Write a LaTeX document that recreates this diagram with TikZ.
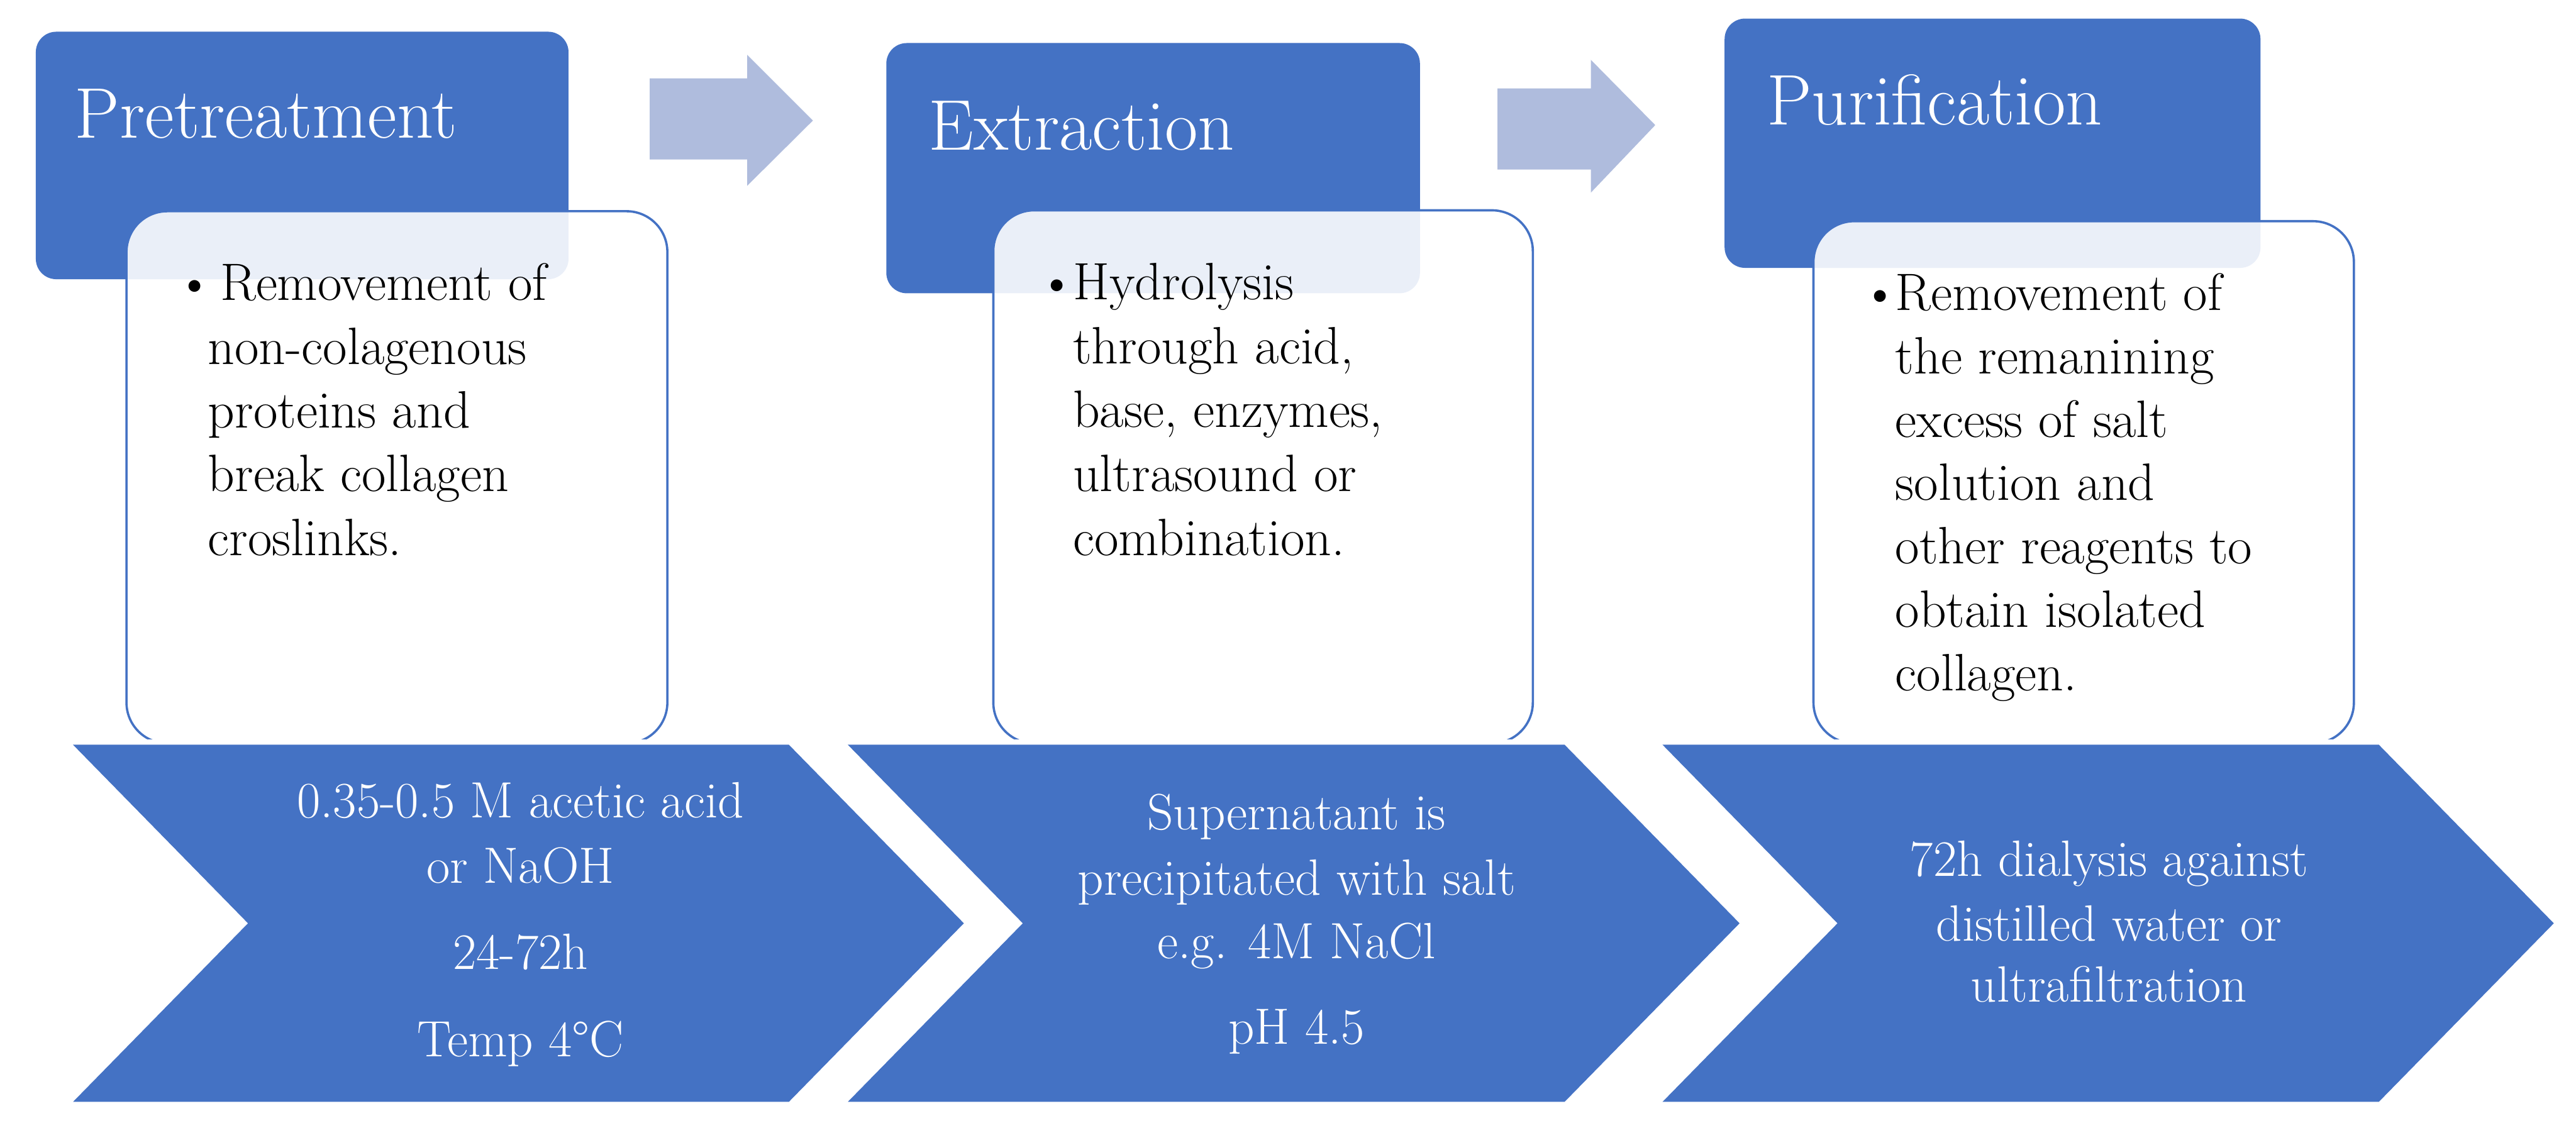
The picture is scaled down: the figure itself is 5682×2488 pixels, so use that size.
\documentclass[tikz,border=0pt]{standalone}
\definecolor{hblue}{RGB}{68,114,196}
\definecolor{arrowblue}{RGB}{175,188,221}
\tikzset{
  header/.style={fill=hblue, rounded corners=0.45cm},
  card/.style={draw=hblue, line width=0.05cm, fill=white, fill opacity=0.89, rounded corners=0.9cm},
  chev/.style={fill=hblue},
  bigarrow/.style={fill=arrowblue},
  title/.style={text=white, font=\fontsize{45}{54}\selectfont, anchor=base west, inner sep=0pt},
  btext/.style={text=black, font=\fontsize{33}{40}\selectfont, anchor=base west, inner sep=0pt},
  ctext/.style={text=white, font=\fontsize{32}{40}\selectfont, anchor=base, inner sep=0pt},
}
\begin{document}
\begin{tikzpicture}[x=0.01cm,y=-0.01cm]
\useasboundingbox (0,0) rectangle (5682,2488);
% headers
\fill[header] (79,70) rectangle (1254,616);
\fill[header] (1955,95) rectangle (3132,647);
\fill[header] (3804,41) rectangle (4986,591);
% white cards
\begin{scope}
\clip (0,0) rectangle (5682,1631);
\draw[card] (279,466) rectangle (1472,1640);
\draw[card] (2191,464) rectangle (3381,1640);
\draw[card] (4000,488) rectangle (5192,1640);
\end{scope}
% block arrows
\fill[bigarrow] (1433,173) -- (1648,173) -- (1648,121) -- (1793,266) -- (1648,410) -- (1648,352) -- (1433,352) -- cycle;
\fill[bigarrow] (3303,195) -- (3509,195) -- (3509,132) -- (3651,276) -- (3509,425) -- (3509,374) -- (3303,374) -- cycle;
% chevrons
\fill[chev] (161,1643) -- (1740,1643) -- (2126,2037) -- (1740,2431) -- (161,2431) -- (547,2037) -- cycle;
\fill[chev] (1870,1643) -- (3451,1643) -- (3837,2037) -- (3451,2431) -- (1870,2431) -- (2256,2037) -- cycle;
\fill[chev] (3667,1643) -- (5247,1643) -- (5633,2037) -- (5247,2431) -- (3667,2431) -- (4053,2037) -- cycle;
% titles
\node[title] (t1) at (164,304) {Pretreatment};
\node[title] (t2) at (2048,331) {Extraction};
\node[title] (t3) at (3896,276) {Purification};
% bullet texts
\node[btext] (pb) at (387,663) {\textbullet};
\node[btext] (p1) at (485,663) {Removement of};
\foreach \s [count=\i from 2] in {non-colagenous, proteins and, break collagen, croslinks.}
  \node[btext] (p\i) at (458,{663+140.5*(\i-1)}) {\s};
\node[btext] (eb) at (2289,661) {\textbullet};
\foreach \s [count=\i from 1] in {Hydrolysis, {through acid,}, {base, enzymes,}, ultrasound or, combination.}
  \node[btext] (e\i) at (2366,{661+141*(\i-1)}) {\s};
\node[btext] (ub) at (4105,685) {\textbullet};
\foreach \s [count=\i from 1] in {Removement of, the remanining, excess of salt, solution and, other reagents to, obtain isolated, collagen.}
  \node[btext] (u\i) at (4180,{685+139.7*(\i-1)}) {\s};
% chevron texts
\node[ctext] (c11) at (1148,1804) {0.35-0.5 M acetic acid};
\node[ctext] (c12) at (1148,1948) {or NaOH};
\node[ctext] (c13) at (1148,2139) {24-72h};
\node[ctext] (c14) at (1148,2331) {Temp 4\textdegree C};
\node[ctext] (c21) at (2860,1831) {Supernatant is};
\node[ctext] (c22) at (2860,1975) {precipitated with salt};
\node[ctext] (c23) at (2860,2115) {e.g. 4M NaCl};
\node[ctext] (c24) at (2860,2304) {pH 4.5};
\node[ctext] (c31) at (4652,1933) {72h dialysis against};
\node[ctext] (c32) at (4652,2076) {distilled water or};
\node[ctext] (c33) at (4652,2211) {ultrafiltration};
\end{tikzpicture}
\end{document}
